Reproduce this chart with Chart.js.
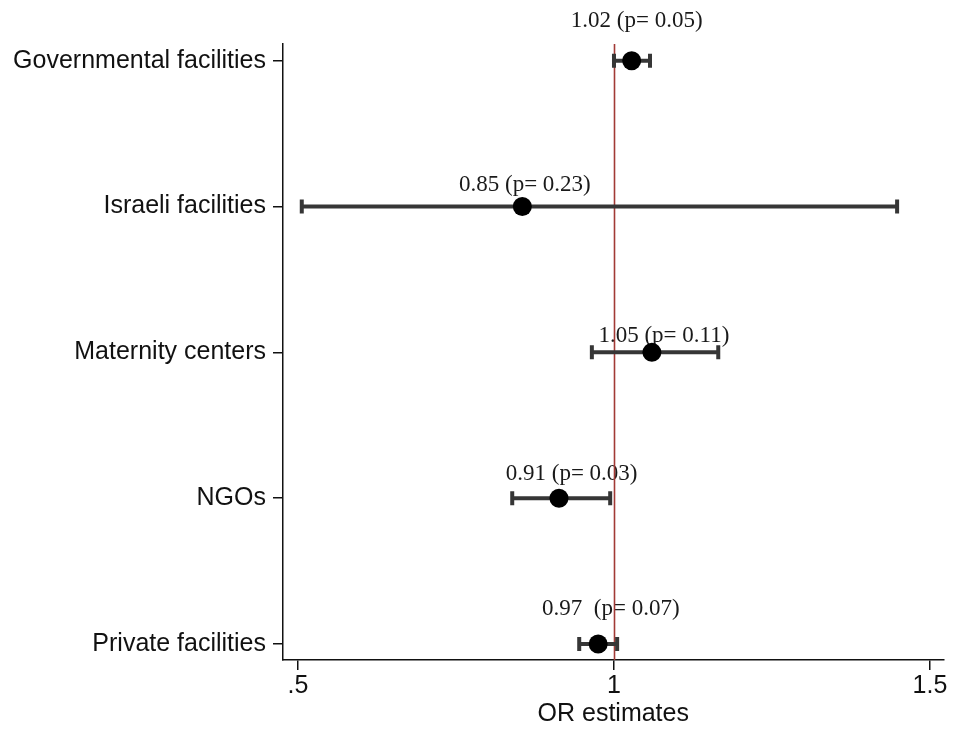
<!DOCTYPE html>
<html>
<head>
<meta charset="utf-8">
<script src="https://cdn.jsdelivr.net/npm/chart.js@4/dist/chart.umd.min.js"></script>
<style>
  html, body { margin: 0; padding: 0; background: #ffffff; }
  #wrap { width: 953px; height: 730px; position: relative; }
</style>
</head>
<body>
<div id="wrap"><canvas id="c" width="953" height="730"></canvas></div>
<script>
// ---- data ----
const categories = ["Governmental facilities", "Israeli facilities", "Maternity centers", "NGOs", "Private facilities"];
const orEstimates = [1.028, 0.855, 1.060, 0.913, 0.975];
const ciLower = [1.000, 0.506, 0.965, 0.839, 0.945];
const ciUpper = [1.057, 1.448, 1.165, 0.994, 1.005];
const pLabels = ["1.02 (p= 0.05)", "0.85 (p= 0.23)", "1.05 (p= 0.11)", "0.91 (p= 0.03)", "0.97  (p= 0.07)"];
// annotation anchor for each label (x in OR units, y in category units)
const labelX = [1.036, 0.859, 1.079, 0.933, 0.995];
const labelY = [-0.270, 0.852, 1.890, 2.832, 3.763];
const xTickValues = [0.5, 1, 1.5];
const xTickLabels = [".5", "1", "1.5"];
const referenceValue = 1;
const xTitle = "OR estimates";

const sans = "'Liberation Sans', Arial, Helvetica, sans-serif";
const serif = "'Liberation Serif', 'Times New Roman', serif";

const pointData = orEstimates.map((v, i) => ({ x: v, y: i }));

const forestPlugin = {
  id: 'forest',
  beforeDatasetsDraw(chart) {
    const ctx = chart.ctx;
    const xs = chart.scales.x, ys = chart.scales.y;
    const area = chart.chartArea;
    ctx.save();
    // annotations
    ctx.fillStyle = '#1a1a1a';
    ctx.font = '23px ' + serif;
    ctx.textAlign = 'center';
    ctx.textBaseline = 'middle';
    pLabels.forEach((t, i) => {
      ctx.fillText(t, xs.getPixelForValue(labelX[i]), ys.getPixelForValue(labelY[i]));
    });
    // reference line
    const rx = Math.round(xs.getPixelForValue(referenceValue)) + 0.5;
    ctx.strokeStyle = '#a23a36';
    ctx.lineWidth = 1.6;
    ctx.beginPath();
    ctx.moveTo(rx, area.top);
    ctx.lineTo(rx, area.bottom);
    ctx.stroke();
    // confidence intervals
    ctx.strokeStyle = '#363636';
    ctx.lineWidth = 4;
    ctx.lineCap = 'butt';
    categories.forEach((c, i) => {
      const y = ys.getPixelForValue(i);
      const x0 = xs.getPixelForValue(ciLower[i]);
      const x1 = xs.getPixelForValue(ciUpper[i]);
      ctx.beginPath();
      ctx.moveTo(x0, y); ctx.lineTo(x1, y);
      ctx.moveTo(x0, y - 7); ctx.lineTo(x0, y + 7);
      ctx.moveTo(x1, y - 7); ctx.lineTo(x1, y + 7);
      ctx.stroke();
    });
    ctx.restore();
  }
};

new Chart(document.getElementById('c'), {
  type: 'scatter',
  data: {
    datasets: [{
      data: pointData,
      pointRadius: 9.5,
      pointHoverRadius: 9.5,
      pointBackgroundColor: '#000000',
      pointBorderColor: '#000000',
      pointBorderWidth: 0,
      showLine: false
    }]
  },
  options: {
    responsive: false,
    animation: false,
    events: [],
    layout: { padding: { top: 44, right: 6, left: 0, bottom: 0 } },
    plugins: {
      legend: { display: false },
      tooltip: { enabled: false },
      title: { display: false }
    },
    scales: {
      x: {
        type: 'linear',
        min: 0.4763,
        max: 1.5214,
        afterBuildTicks(scale) { scale.ticks = xTickValues.map(v => ({ value: v })); },
        afterFit(scale) { scale.height = 70; },
        ticks: {
          callback(value) { const i = xTickValues.indexOf(value); return i >= 0 ? xTickLabels[i] : ''; },
          color: '#111111',
          font: { family: sans, size: 25 },
          padding: 1,
          maxRotation: 0,
          autoSkip: false
        },
        grid: { drawOnChartArea: false, drawTicks: true, tickLength: 10, color: '#111111', lineWidth: 1.5 },
        border: { display: true, color: '#111111', width: 1.5 },
        title: {
          display: true,
          text: xTitle,
          color: '#111111',
          font: { family: sans, size: 25 },
          padding: { top: 0, bottom: 1 }
        }
      },
      y: {
        type: 'linear',
        reverse: true,
        min: -0.115,
        max: 4.11,
        afterBuildTicks(scale) { scale.ticks = categories.map((c, i) => ({ value: i })); },
        afterFit(scale) { scale.width = 283; },
        ticks: {
          callback(value) { return categories[value] !== undefined ? categories[value] : ''; },
          color: '#111111',
          font: { family: sans, size: 25 },
          padding: 7,
          autoSkip: false
        },
        grid: { drawOnChartArea: false, drawTicks: true, tickLength: 10, color: '#111111', lineWidth: 1.5 },
        border: { display: true, color: '#111111', width: 1.5 }
      }
    }
  },
  plugins: [forestPlugin]
});
</script>
</body>
</html>
